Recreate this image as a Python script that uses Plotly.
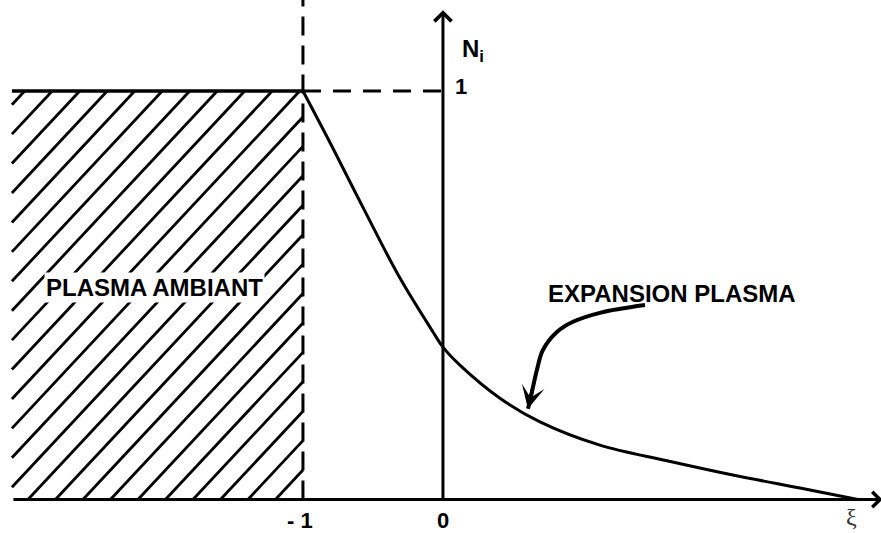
import plotly.graph_objects as go

# Ion density profile N_i(xi) of the expanding plasma
xi = [-1.0, -0.786, -0.543, -0.307, -0.071, 0.0, 0.121, 0.407, 0.693,
      1.121, 1.600, 2.071, 2.550, 2.964]
n_i = [1.0, 0.860, 0.696, 0.542, 0.410, 0.373, 0.329, 0.248, 0.190,
       0.133, 0.095, 0.060, 0.028, 0.0]

# Hand-drawn leader pointing from the label to the profile
callout_xi = [1.443, 1.121, 0.929, 0.814, 0.714, 0.671, 0.643, 0.614]
callout_n = [0.476, 0.457, 0.435, 0.410, 0.366, 0.317, 0.275, 0.231]
callout_tip = (0.607, 0.222)

# Tick labels on the xi axis and on the N_i axis
xi_ticks = [-1.0, 0.0]
xi_tick_text = ["- 1", "0"]
n_ticks = [1.0]
n_tick_text = ["1"]

region_labels = ["PLASMA AMBIANT", "EXPANSION PLASMA"]

# Canvas and view window
W, H = 881, 533
X_RANGE = [-3.164, 3.129]
Y_RANGE = [-0.082, 1.2228]
px_x = W / (X_RANGE[1] - X_RANGE[0])
px_y = H / (Y_RANGE[1] - Y_RANGE[0])

# Ambient plasma (hatched) region: xi from left edge to -1, N from 0 to 1
HATCH_LEFT, HATCH_RIGHT = -3.079, -1.0
HATCH_SLOPE_PX = 1.07      # rise per run on screen
HATCH_STEP_PX = 27.5       # horizontal spacing of hatch lines on screen
N_HATCH = 25

fig = go.Figure()

# Hatch lines clipped to the ambient plasma rectangle
m = HATCH_SLOPE_PX * px_x / px_y
step = HATCH_STEP_PX / px_x
hx, hy = [], []
for j in range(N_HATCH):
    c = HATCH_RIGHT - j * step
    x0 = max(c, HATCH_LEFT)
    x1 = min(HATCH_RIGHT, c + 1.0 / m)
    if x1 <= x0:
        continue
    hx += [x0, x1, None]
    hy += [m * (x0 - c), m * (x1 - c), None]
fig.add_trace(go.Scatter(x=hx, y=hy, mode="lines",
                         line=dict(color="black", width=2.8), hoverinfo="skip"))

# Top edge of the ambient plasma at N = 1
fig.add_trace(go.Scatter(x=[HATCH_LEFT, HATCH_RIGHT], y=[1, 1], mode="lines",
                         line=dict(color="black", width=3.5), hoverinfo="skip"))

# Dashed guides at xi = -1 and N = 1
fig.add_trace(go.Scatter(x=[-1, -1], y=[0, Y_RANGE[1]], mode="lines",
                         line=dict(color="black", width=3, dash="19px,10px"),
                         hoverinfo="skip"))
fig.add_trace(go.Scatter(x=[-1, 0], y=[1, 1], mode="lines",
                         line=dict(color="black", width=3, dash="18px,12px"),
                         hoverinfo="skip"))

# Density profile
fig.add_trace(go.Scatter(x=xi, y=n_i, mode="lines",
                         line=dict(color="black", width=3, shape="spline",
                                   smoothing=1.0),
                         hoverinfo="skip"))

# Leader curve
fig.add_trace(go.Scatter(x=callout_xi + [callout_tip[0]],
                         y=callout_n + [callout_tip[1]], mode="lines",
                         line=dict(color="black", width=4, shape="spline"),
                         hoverinfo="skip"))

annotations = []

# Axes drawn as arrows
annotations.append(dict(x=0, y=1.198, ax=0, ay=0, xref="x", yref="y",
                        axref="x", ayref="y", text="", showarrow=True,
                        arrowhead=4, arrowwidth=3, arrowsize=1.1,
                        arrowcolor="black"))
annotations.append(dict(x=X_RANGE[1] + 0.01, y=0, ax=HATCH_LEFT, ay=0,
                        xref="x", yref="y", axref="x", ayref="y", text="",
                        showarrow=True, arrowhead=4, arrowwidth=3,
                        arrowsize=1.0, arrowcolor="black"))

# Arrowhead of the leader
annotations.append(dict(x=callout_tip[0], y=callout_tip[1],
                        ax=callout_xi[-2], ay=callout_n[-2],
                        xref="x", yref="y", axref="x", ayref="y", text="",
                        showarrow=True, arrowhead=3, arrowwidth=3.5,
                        arrowsize=1.1, arrowcolor="black"))

label_font = dict(family="Liberation Sans, Arial, sans-serif", size=24,
                  color="black")
tick_font = dict(family="Liberation Sans, Arial, sans-serif", size=22,
                 color="black")

# Region labels
annotations.append(dict(x=-2.057, y=0.519, xref="x", yref="y",
                        text="<b>%s</b>" % region_labels[0], showarrow=False,
                        font=label_font, bgcolor="white", borderpad=1))
annotations.append(dict(x=1.636, y=0.504, xref="x", yref="y",
                        text="<b>%s</b>" % region_labels[1], showarrow=False,
                        font=label_font))

# Tick labels
for v, t in zip(xi_ticks, xi_tick_text):
    annotations.append(dict(x=v - (0.021 if v < 0 else 0), y=-0.051,
                            xref="x", yref="y", text="<b>%s</b>" % t,
                            showarrow=False, font=tick_font))
for v, t in zip(n_ticks, n_tick_text):
    annotations.append(dict(x=0.129, y=v + 0.012, xref="x", yref="y",
                            text="<b>%s</b>" % t, showarrow=False,
                            font=tick_font))

# Axis titles
annotations.append(dict(x=0.121, y=1.10, xref="x", yref="y",
                        xanchor="left", yanchor="middle",
                        text="<b>N<sub>i</sub></b>", showarrow=False,
                        font=label_font))
annotations.append(dict(x=2.921, y=-0.044, xref="x", yref="y",
                        text="\u03be", showarrow=False,
                        font=dict(family="Liberation Serif, serif", size=24,
                                  color="#333333")))

fig.update_layout(
    width=W, height=H,
    margin=dict(l=0, r=0, t=0, b=0),
    paper_bgcolor="white", plot_bgcolor="white",
    showlegend=False,
    xaxis=dict(range=X_RANGE, visible=False, fixedrange=True),
    yaxis=dict(range=Y_RANGE, visible=False, fixedrange=True),
    annotations=annotations,
)

fig.write_html("out.html")
